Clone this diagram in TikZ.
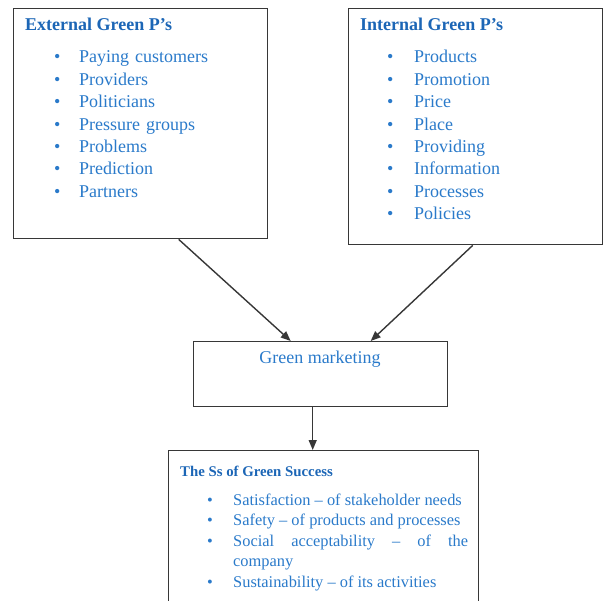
\documentclass[tikz,border=0pt]{standalone}
\usepackage{fontspec}
\setmainfont{Liberation Serif}
\usetikzlibrary{arrows.meta}
\definecolor{headblue}{RGB}{28,102,182}
\definecolor{itemblue}{RGB}{42,122,202}
\definecolor{framegray}{RGB}{55,55,55}
% one bullet line of a list, hanging so wrapped lines stay under the text
\newcommand{\gitem}[2][22pt]{\hangindent=#1\hangafter=1\noindent\makebox[#1][l]{\textbullet}#2\par}
\tikzset{
  pbox/.style={draw=framegray, line width=1.4pt, anchor=north west, inner sep=0pt},
  phead/.style={anchor=base west, inner sep=0pt, text=headblue, font=\bfseries\fontsize{18}{22}\selectfont},
  plist/.style={anchor=base west, inner sep=0pt, text=itemblue, text width=#1, font=\fontsize{18}{22.4}\selectfont},
  parrow/.style={draw=framegray, line width=1.4pt, -{Triangle[length=10pt,width=8pt]}}
}
\begin{document}
\begin{tikzpicture}[x=1pt, y=-1pt]
\useasboundingbox (0,0) rectangle (605,601);
% the four boxes
\node[pbox, minimum width=254pt, minimum height=230pt] (ext) at (13,8) {};
\node[pbox, minimum width=254pt, minimum height=236pt] (int) at (348,8) {};
\node[pbox, minimum width=254pt, minimum height=65pt] (gm) at (193,341) {};
\node[pbox, minimum width=310pt, minimum height=170pt] (ss) at (168,450) {};
% external P's
\node[phead] (exthead) at (25,31) {External Green P’s};
\node[plist=200pt] (extlist) at (54,63) {\gitem[25pt]{Paying customers}\gitem[25pt]{Providers}\gitem[25pt]{Politicians}%
  \gitem[25pt]{Pressure groups}\gitem[25pt]{Problems}\gitem[25pt]{Prediction}\gitem[25pt]{Partners}};
% internal P's
\node[phead] (inthead) at (360,31) {Internal Green P’s};
\node[plist=200pt] (intlist) at (387,63) {\gitem[27pt]{Products}\gitem[27pt]{Promotion}\gitem[27pt]{Price}%
  \gitem[27pt]{Place}\gitem[27pt]{Providing}\gitem[27pt]{Information}\gitem[27pt]{Processes}\gitem[27pt]{Policies}};
% middle
\node[anchor=base, inner sep=0pt, text=itemblue, font=\fontsize{18}{22}\selectfont] (gmtext) at (320,364) {Green marketing};
% the Ss
\node[phead, font=\bfseries\fontsize{14.8}{18}\selectfont] (sshead) at (180,476) {The Ss of Green Success};
\node[plist=261pt, align=justify, font=\fontsize{16.4}{20.5}\selectfont] (sslist) at (207,505) {\hyphenpenalty=10000\tolerance=10000%
  \gitem[26pt]{Satisfaction – of stakeholder needs}\gitem[26pt]{Safety – of products and processes}%
  \gitem[26pt]{Social acceptability – of the company}\gitem[26pt]{Sustainability – of its activities}};
% arrows
\draw[parrow] ([xshift=38pt]ext.south) -- ([xshift=-30pt]gm.north);
\draw[parrow] ([xshift=-3pt]int.south) -- ([xshift=50pt]gm.north);
\draw[parrow] ([xshift=-8pt]gm.south) -- ([xshift=-8pt]gm.south |- ss.north);
\end{tikzpicture}
\end{document}
